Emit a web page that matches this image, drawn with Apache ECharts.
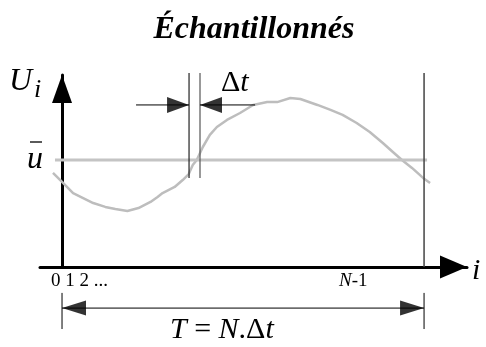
<!DOCTYPE html>
<html>
<head>
<meta charset="utf-8">
<script src="https://cdn.jsdelivr.net/npm/echarts@6/dist/echarts.min.js"></script>
<style>
  html, body { margin: 0; padding: 0; background: #fff; }
  #chart { width: 486px; height: 347px; }
</style>
</head>
<body>
<div id="chart"></div>
<script>
// Sampled signal U_i against sample index i
const sampleIdx = [-0.9, 0, 1.1, 2.1, 3.1, 4.3, 5.3, 6.5, 7.6, 8.8, 9.5, 10.0, 11.2, 12.0, 12.6, 13.0, 13.4,
  14.0, 14.7, 15.4, 16.4, 17.7, 19.0, 20.4, 21.4, 22.7, 23.7, 25.4, 26.7, 27.9, 29.3, 30.6, 31.9, 32.9,
  33.8, 34.8, 35.9, 36.6];
const voltage = [4.90, 4.43, 3.85, 3.59, 3.33, 3.13, 3.02, 2.92, 3.07, 3.39, 3.65, 3.85, 4.17, 4.53, 4.84,
  5.31, 5.57, 6.25, 6.88, 7.29, 7.66, 8.02, 8.44, 8.59, 8.59, 8.80, 8.75, 8.44, 8.18, 7.92, 7.50, 7.03,
  6.46, 5.99, 5.57, 5.16, 4.64, 4.38];

// Mean value ū and the span of its line
const meanValue = 5.57;
const meanSpan = [-0.7, 36.3];

// Index of the last sample (N-1) and the window height
const lastIndex = 36;
const windowTop = 10.1;

// Two neighbouring sample instants framing Δt
const dtSamples = [12.63, 13.72];
const dtLineBottom = 4.64;
const dtArrowLevel = 8.44;
const dtArrowTails = [7.36, 19.2];

// Period arrow T = N.Δt below the axis
const periodLevel = -2.14;
const periodTicks = [-1.35, -3.23];

// Tick text
const firstTicks = '0 1 2 ...';

const xMin = -2.19, xMax = 40.27;
const serif = '"Liberation Serif", "DejaVu Serif", serif';

const chart = echarts.init(document.getElementById('chart'), null, { renderer: 'canvas' });

function seg(a, b, color, width) {
  return {
    type: 'line', data: [a, b], symbol: 'none', clip: false, silent: true,
    lineStyle: { color: color, width: width }, z: 3
  };
}

const rightHead = 'path://M0,0L24,7L0,14Z';
const leftHead = 'path://M24,0L0,7L24,14Z';

function head(pt, path, size, off) {
  return {
    type: 'scatter', data: [pt], symbol: path, symbolSize: size, symbolOffset: off,
    clip: false, silent: true, itemStyle: { color: '#000' }, z: 4
  };
}

const option = {
  animation: false,
  backgroundColor: '#fff',
  grid: { left: 40, right: 19, top: 75, bottom: 80 },
  xAxis: {
    type: 'value', min: xMin, max: xMax,
    axisLine: {
      show: true, onZero: true,
      lineStyle: { color: '#000', width: 3 },
      symbol: ['none', 'triangle'], symbolSize: [23, 27], symbolOffset: [0, -13.5]
    },
    axisTick: { show: false }, axisLabel: { show: false }, splitLine: { show: false }
  },
  yAxis: {
    type: 'value', min: 0, max: 10,
    axisLine: {
      show: true, onZero: true,
      lineStyle: { color: '#000', width: 3 },
      symbol: ['none', 'triangle'], symbolSize: [20, 28], symbolOffset: [0, -14]
    },
    axisTick: { show: false }, axisLabel: { show: false }, splitLine: { show: false }
  },
  series: [
    // mean line
    seg([meanSpan[0], meanValue], [meanSpan[1], meanValue], '#c4c4c4', 3),
    // sampled signal
    {
      type: 'line', data: sampleIdx.map((x, k) => [x, voltage[k]]),
      symbol: 'none', clip: false, silent: true,
      lineStyle: { color: '#bdbdbd', width: 2.5 }, z: 2
    },
    // end of the acquisition window
    seg([lastIndex, 0], [lastIndex, windowTop], '#444', 1.5),
    // Δt sample markers
    seg([dtSamples[0], dtLineBottom], [dtSamples[0], windowTop], '#222', 1.2),
    seg([dtSamples[1], dtLineBottom], [dtSamples[1], windowTop], '#555', 1.2),
    seg([dtArrowTails[0], dtArrowLevel], [dtSamples[0], dtArrowLevel], '#000', 1),
    seg([dtSamples[1], dtArrowLevel], [dtArrowTails[1], dtArrowLevel], '#000', 1),
    head([dtSamples[0], dtArrowLevel], rightHead, [22, 16], [-11, 0]),
    head([dtSamples[1], dtArrowLevel], leftHead, [22, 16], [11, 0]),
    // period T
    seg([0, periodLevel], [lastIndex, periodLevel], '#000', 1),
    seg([0, periodTicks[0]], [0, periodTicks[1]], '#000', 1),
    seg([lastIndex, periodTicks[0]], [lastIndex, periodTicks[1]], '#000', 1),
    head([0, periodLevel], leftHead, [24, 15], [12, 0]),
    head([lastIndex, periodLevel], rightHead, [24, 15], [-12, 0])
  ],
  graphic: [
    {
      type: 'text', x: 254, y: 30,
      style: {
        text: 'Échantillonnés', font: 'italic bold 32px ' + serif, fill: '#000',
        align: 'center', verticalAlign: 'middle'
      }
    },
    {
      type: 'text', x: 9, y: 82,
      style: { text: 'U', font: 'italic 32px ' + serif, fill: '#000', verticalAlign: 'middle' }
    },
    {
      type: 'text', x: 34, y: 90,
      style: { text: 'i', font: 'italic 26px ' + serif, fill: '#000', verticalAlign: 'middle' }
    },
    {
      type: 'text', x: 27, y: 160,
      style: { text: 'u', font: 'italic 32px ' + serif, fill: '#000', verticalAlign: 'middle' }
    },
    {
      type: 'line', shape: { x1: 30, y1: 142, x2: 42, y2: 142 },
      style: { stroke: '#000', lineWidth: 1.3 }
    },
    {
      type: 'text', x: 221, y: 83,
      style: {
        text: '{a|Δ}{b|t}', fill: '#000', verticalAlign: 'middle',
        rich: {
          a: { font: '30px ' + serif },
          b: { font: 'italic 30px ' + serif }
        }
      }
    },
    {
      type: 'text', x: 51, y: 281,
      style: { text: firstTicks, font: '19px ' + serif, fill: '#000', verticalAlign: 'middle' }
    },
    {
      type: 'text', x: 339, y: 281,
      style: {
        text: '{a|N}{b|-1}', fill: '#000', verticalAlign: 'middle',
        rich: {
          a: { font: 'italic 19px ' + serif },
          b: { font: '19px ' + serif }
        }
      }
    },
    {
      type: 'text', x: 472, y: 271,
      style: { text: 'i', font: 'italic 30px ' + serif, fill: '#000', verticalAlign: 'middle' }
    },
    {
      type: 'text', x: 170, y: 330,
      style: {
        text: '{a|T}{b| = }{a|N}{b|.Δ}{a|t}', fill: '#000', verticalAlign: 'middle',
        rich: {
          a: { font: 'italic 30px ' + serif },
          b: { font: '30px ' + serif }
        }
      }
    }
  ]
};

chart.setOption(option);
</script>
</body>
</html>
